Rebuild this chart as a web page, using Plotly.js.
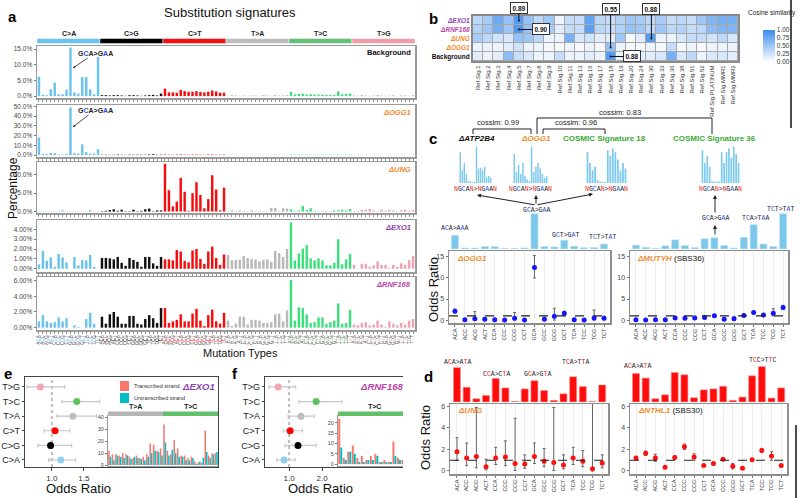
<!DOCTYPE html>
<html>
<head>
<meta charset="utf-8">
<script src="https://cdn.plot.ly/plotly-3.0.1.min.js"></script>
<style>html,body{margin:0;padding:0;background:#fff}#plot{width:800px;height:498px}</style>
</head>
<body>
<div id="plot"></div>
<script>
var W = 800, H = 498;
var SANS = 'Liberation Sans, Arial, sans-serif';
var MONO = 'Liberation Mono, DejaVu Sans Mono, monospace';

// ---------- panel a: 96-channel spectra (%) ----------
var mutTypes = ['C>A', 'C>G', 'C>T', 'T>A', 'T>C', 'T>G'];
var flanks = ['A', 'C', 'G', 'T'];
var typeColors = ['#6ac3ec', '#111111', '#f50d0d', '#b8b8b8', '#3ee07e', '#efa3b0'];
var stripColors = ['#6ac3ec', '#000000', '#f20f0f', '#bdbdbd', '#66bf78', '#ee9da9'];

var background = [
  6.2, 0.5, 0.3, 2.2, 4.3, 0.6, 0.6, 2.1, 15.5, 1.2, 0.8, 6.1, 6.1, 2.2, 0.6, 12.5,
  0.3, 0.3, 0.2, 0.3, 0.3, 0.2, 0.1, 0.3, 0.3, 0.2, 0.1, 0.2, 0.3, 0.4, 0.2, 0.8,
  2.4, 1.2, 1.2, 1.1, 2.0, 1.6, 1.4, 1.4, 1.6, 1.3, 1.2, 1.4, 1.8, 1.5, 1.1, 1.1,
  0.1, 0.3, 0.2, 0.1, 0.2, 0.1, 0.2, 0.2, 0.1, 0.3, 0.2, 0.1, 0.3, 0.2, 0.2, 0.3,
  1.3, 0.5, 0.7, 0.8, 0.5, 0.6, 0.5, 0.5, 0.5, 0.4, 0.4, 0.4, 1.5, 0.6, 0.7, 0.8,
  0.2, 0.1, 0.3, 0.2, 0.1, 0.2, 0.3, 0.2, 0.1, 0.2, 0.3, 0.1, 0.2, 0.2, 0.1, 0.3
];
var ogg1 = [
  18, 1, 1, 2, 2, 0.5, 0.5, 1, 49, 2, 1.5, 11, 3, 1.5, 1.5, 6,
  0.3, 0.3, 0.2, 0.3, 0.5, 0.3, 0.2, 0.4, 0.3, 0.4, 0.3, 0.3, 0.6, 0.8, 0.3, 0.4,
  0.6, 0.4, 0.3, 0.5, 0.6, 0.4, 0.3, 0.5, 0.5, 0.4, 0.2, 0.5, 0.6, 0.4, 0.3, 0.5,
  0.2, 0.3, 0.2, 0.2, 0.3, 0.2, 0.2, 0.3, 0.3, 0.2, 0.2, 0.3, 0.4, 0.3, 0.2, 0.3,
  0.5, 0.3, 0.4, 0.4, 0.3, 0.3, 0.2, 0.3, 0.4, 0.3, 0.3, 0.3, 0.5, 0.3, 0.3, 0.4,
  0.2, 0.2, 0.3, 0.3, 0.2, 0.2, 0.3, 0.2, 0.2, 0.3, 0.2, 0.2, 0.3, 0.2, 0.2, 0.3
];
var ung = [
  0.05, 0.05, 0.05, 0.05, 0.05, 0.05, 0.3, 0.05, 0.05, 0.05, 0.05, 0.05, 0.05, 0.4, 0.05, 0.05,
  0.1, 0.2, 0.4, 0.6, 0.2, 0.5, 0.1, 0.1, 0.5, 0.1, 0.2, 0.6, 0.8, 0.1, 0.3, 0.3,
  13, 5.8, 1.4, 2.7, 9.2, 5.4, 0.2, 5.0, 8.0, 4.5, 0.9, 3.4, 9.9, 6.0, 0.3, 6.5,
  0.1, 0.3, 0.1, 0.3, 0.1, 0.1, 0.3, 0.1, 0.2, 0.1, 0.1, 1.0, 1.0, 0.1, 0.9, 0.8,
  0.6, 0.1, 0.3, 1.5, 0.4, 0.9, 0.1, 0.1, 0.1, 0.1, 0.1, 0.3, 0.3, 0.5, 0.3, 0.7,
  0.1, 0.1, 0.4, 0.5, 0.7, 0.3, 0.1, 0.5, 0.2, 0.4, 0.3, 0.1, 0.3, 0.5, 0.2, 0.4
];
var exo1 = [
  0.45, 1.8, 0.8, 1.15, 0.2, 1.5, 1.15, 0.65, 0.0, 1.2, 0.35, 0.9, 0.85, 1.4, 0.2, 0.0,
  1.1, 1.1, 1.05, 0.95, 1.2, 0.6, 0.3, 1.1, 0.9, 0.7, 0.2, 1.2, 1.2, 0.55, 0.3, 1.2,
  0.95, 0.95, 0.85, 1.9, 1.75, 0.8, 0.65, 1.85, 2.0, 1.0, 0.5, 1.75, 2.25, 1.1, 0.4, 1.45,
  1.4, 0.85, 0.9, 0.9, 1.3, 1.1, 1.0, 0.95, 0.75, 0.9, 0.95, 0.7, 1.8, 1.6, 1.2, 2.0,
  4.7, 0.85, 1.55, 2.05, 2.4, 1.05, 0.85, 1.05, 0.85, 0.35, 0.35, 0.6, 3.0, 0.45, 0.95, 1.5,
  0.4, 0.0, 0.5, 0.5, 0.2, 0.35, 0.75, 0.4, 0.4, 0.1, 0.4, 0.2, 0.55, 0.4, 0.9, 1.3
];
var rnf168 = [
  0.8, 1.6, 0.8, 0.6, 0.7, 1.3, 0.8, 1.2, 0.0, 0.3, 0.1, 0.0, 1.1, 1.9, 0.5, 0.0,
  1.4, 0.5, 1.7, 2.0, 1.4, 0.5, 0.5, 1.5, 1.5, 0.5, 0.4, 1.1, 1.6, 1.2, 0.6, 2.5,
  2.5, 0.6, 0.8, 1.0, 1.7, 0.8, 0.8, 1.8, 2.4, 0.9, 0.2, 1.6, 2.3, 0.8, 0.5, 1.9,
  0.9, 0.2, 0.5, 1.4, 1.4, 0.4, 1.0, 1.0, 0.9, 0.6, 0.6, 0.7, 1.7, 1.8, 0.8, 2.2,
  6.1, 0.9, 2.6, 2.5, 1.7, 0.6, 0.7, 1.3, 1.3, 0.5, 0.7, 0.9, 3.1, 0.5, 0.6, 2.3,
  0.4, 0.3, 0.6, 0.7, 0.3, 0.4, 0.9, 0.4, 0.1, 0.8, 0.5, 0.3, 0.6, 0.4, 0.9, 1.1
];

// ---------- panel b: cosine similarity ----------
var refSigs = ['Ref.Sig.1', 'Ref.Sig.2', 'Ref.Sig.3', 'Ref.Sig.4', 'Ref.Sig.5', 'Ref.Sig.7', 'Ref.Sig.8',
  'Ref.Sig.9', 'Ref.Sig.10', 'Ref.Sig.11', 'Ref.Sig.13', 'Ref.Sig.16', 'Ref.Sig.17', 'Ref.Sig.18',
  'Ref.Sig.19', 'Ref.Sig.20', 'Ref.Sig.24', 'Ref.Sig.30', 'Ref.Sig.33', 'Ref.Sig.36', 'Ref.Sig.38',
  'Ref.Sig.51', 'Ref.Sig.52', 'Ref.Sig.PLATINUM', 'Ref.Sig.MMR1', 'Ref.Sig.MMR2'];
var simBackground = [0.15, 0.1, 0.15, 0.6, 0.3, 0.2, 0.1, 0.1, 0.3, 0.1, 0.1, 0.15, 0.1, 0.88, 0.1, 0.1, 0.15, 0.15, 0.2, 0.7, 0.2, 0.35, 0.1, 0.2, 0.2, 0.15];
var simOGG1 = [0.1, 0.1, 0.1, 0.15, 0.25, 0.1, 0.1, 0.05, 0.05, 0.1, 0.05, 0.1, 0.05, 0.55, 0.1, 0.05, 0.05, 0.1, 0.05, 0.3, 0.05, 0.1, 0.05, 0.1, 0.1, 0.1];
var simUNG = [0.45, 0.35, 0.25, 0.2, 0.55, 0.5, 0.35, 0.1, 0.1, 0.7, 0.2, 0.25, 0.15, 0.15, 0.5, 0.05, 0.15, 0.88, 0.1, 0.1, 0.2, 0.3, 0.3, 0.25, 0.35, 0.2];
var simRNF168 = [0.4, 0.5, 0.7, 0.5, 0.90, 0.55, 0.55, 0.45, 0.15, 0.3, 0.3, 0.85, 0.35, 0.3, 0.4, 0.55, 0.5, 0.35, 0.5, 0.35, 0.4, 0.3, 0.35, 0.6, 0.65, 0.65];
var simEXO1 = [0.35, 0.45, 0.75, 0.55, 0.89, 0.55, 0.35, 0.5, 0.1, 0.3, 0.3, 0.8, 0.35, 0.3, 0.4, 0.5, 0.45, 0.35, 0.45, 0.3, 0.35, 0.3, 0.5, 0.65, 0.7, 0.7];

// ---------- panel c/d: C>A and C>T contexts ----------
var ctx16 = ['ACA', 'ACC', 'ACG', 'ACT', 'CCA', 'CCC', 'CCG', 'CCT', 'GCA', 'GCC', 'GCG', 'GCT', 'TCA', 'TCC', 'TCG', 'TCT'];
var miniATP2B4 = [0.85, 0.35, 0.55, 0.25, 0.06, 0.05, 0.03, 0.03, 1.0, 0.4, 0.42, 0.35, 0.45, 0.15, 0.2, 0.15];
var miniOGG1 = [0.8, 0.3, 0.5, 0.25, 0.55, 0.2, 0.1, 0.05, 1.0, 0.3, 0.45, 0.55, 0.4, 0.25, 0.15, 0.2];
var miniSig18 = [0.85, 0.55, 0.35, 0.45, 0.08, 0.04, 0.03, 0.03, 0.9, 0.75, 0.95, 0.85, 0.65, 0.35, 0.55, 0.4];
var miniSig36 = [0.9, 0.55, 0.75, 0.45, 0.05, 0.04, 0.04, 0.04, 0.85, 0.55, 0.85, 0.95, 0.7, 1.0, 0.8, 0.55];
var spectrumOGG1 = [0.39, 0.03, 0.03, 0.07, 0.07, 0.02, 0.02, 0.03, 1.0, 0.07, 0.06, 0.25, 0.08, 0.04, 0.04, 0.14];
var spectrumMUTYH = [0.11, 0.05, 0.02, 0.09, 0.26, 0.1, 0.04, 0.29, 0.32, 0.1, 0.03, 0.33, 0.69, 0.14, 0.07, 1.0];
var orOGG1 = [2.1, 0.05, 0.3, 0.2, 0.1, 0.0, 0.4, 0.0, 12.5, 0.2, 0.9, 1.6, 0.1, 0.0, 0.5, 0.4];
var loOGG1 = [1.7, 0, 0, 0, 0, 0, 0, 0, 10.0, 0, 0, 1.1, 0, 0, 0, 0.1];
var hiOGG1 = [2.6, 0.3, 2.0, 0.6, 0.4, 0.2, 1.8, 0.2, 15.3, 0.7, 2.8, 2.1, 0.4, 0.2, 2.4, 0.9];
var orMUTYH = [0.1, 0.0, 0.1, 0.1, 0.5, 0.4, 0.5, 0.6, 1.0, 0.2, 0.3, 1.1, 1.8, 1.2, 1.6, 3.0];
var loMUTYH = [0, 0, 0, 0, 0.3, 0.2, 0.3, 0.4, 0.8, 0, 0.1, 0.9, 1.5, 1.0, 1.0, 2.5];
var hiMUTYH = [0.3, 0.2, 0.4, 0.3, 0.7, 0.6, 0.9, 0.8, 1.3, 0.5, 0.8, 1.4, 2.1, 1.5, 2.7, 3.5];

var spectrumUNG = [105, 45, 10, 20, 72, 43, 2, 40, 65, 35, 5, 25, 77, 47, 2, 52];
var spectrumNTHL1 = [87, 73, 10, 22, 90, 83, 13, 37, 40, 48, 5, 15, 80, 108, 12, 43];
var orUNG = [1.8, 1.2, 1.35, 0.4, 1.2, 1.3, 0.7, 0.65, 1.35, 0.9, 0.8, 0.55, 1.2, 0.9, 0.2, 0.75];
var loUNG = [1.0, 0.5, 0.3, 0.1, 0.6, 0.5, 0.05, 0.25, 0.7, 0.4, 0.05, 0.2, 0.6, 0.4, 0.0, 0.3];
var hiUNG = [3.1, 2.6, 5.9, 1.1, 2.2, 2.8, 4.9, 1.5, 2.6, 2.1, 5.9, 1.5, 2.2, 1.9, 7.0, 1.5];
var orNTHL1 = [1.2, 1.65, 1.2, 0.35, 1.25, 2.25, 1.3, 0.5, 0.7, 1.1, 0.45, 0.25, 1.05, 1.9, 1.4, 0.5];
var loNTHL1 = [1.05, 1.45, 0.9, 0.3, 1.1, 2.0, 1.0, 0.45, 0.6, 1.0, 0.2, 0.2, 0.95, 1.75, 1.0, 0.45];
var hiNTHL1 = [1.35, 1.85, 1.55, 0.4, 1.4, 2.5, 1.6, 0.55, 0.8, 1.2, 0.7, 0.3, 1.15, 2.1, 1.8, 0.55];

// ---------- panels e/f: strand bias ----------
var forestColors = ['#8fd0f0', '#000000', '#ff0000', '#bdbdbd', '#5cc15c', '#f4a6b3'];
var orEXO1 = [1.14, 0.98, 1.05, 1.33, 1.39, 0.82];
var loEXO1 = [0.95, 0.78, 0.88, 1.08, 1.16, 0.61];
var hiEXO1 = [1.37, 1.31, 1.28, 1.70, 1.75, 1.20];
var orRNF168 = [0.85, 1.27, 1.03, 1.36, 1.82, 0.67];
var loRNF168 = [0.63, 0.88, 0.82, 0.97, 1.30, 0.39];
var hiRNF168 = [1.18, 1.82, 1.40, 1.76, 2.60, 1.20];
var exo1Transcribed = [12, 9, 9, 8, 10, 9, 7, 6, 8, 6, 7, 9, 18, 17, 12, 14,
  34, 12, 9, 21, 14, 8, 8, 6, 7, 3, 2, 2, 29, 8, 10, 10];
var exo1Untranscribed = [7, 4, 8, 7, 6, 8, 5, 7, 6, 5, 4, 7, 10, 12, 11, 8,
  19, 8, 13, 10, 7, 7, 4, 4, 6, 1, 3, 6, 11, 6, 9, 11];
var rnf168Transcribed = [22, 3, 6, 9, 3, 4, 2, 4, 5, 1, 2, 1, 11, 3, 2, 3];
var rnf168Untranscribed = [8, 2, 6, 5, 1, 1, 2, 2, 4, 1, 1, 1, 4, 2, 1, 1];

// ---------- helpers ----------
var layout = {
  width: W, height: H, margin: {l: 0, r: 0, t: 0, b: 0},
  paper_bgcolor: '#fff', plot_bgcolor: '#fff',
  font: {family: SANS, size: 8, color: '#222'},
  showlegend: false, hovermode: false, barmode: 'overlay',
  annotations: [], shapes: []
};
var data = [];

function px(x) { return x / W; }
function py(y) { return 1 - y / H; }
function range(n) { var a = []; for (var i = 0; i < n; i++) a.push(i); return a; }
function axes(n, x0, x1, top, bot, xo, yo) {
  var s = n === 1 ? '' : String(n);
  layout['xaxis' + s] = Object.assign({domain: [px(x0), px(x1)], anchor: 'y' + s, showgrid: false, zeroline: false}, xo);
  layout['yaxis' + s] = Object.assign({domain: [py(bot), py(top)], anchor: 'x' + s, showgrid: false, zeroline: false}, yo);
  return {xaxis: 'x' + s, yaxis: 'y' + s};
}
function note(text, x, y, o) {
  layout.annotations.push(Object.assign({text: text, xref: 'paper', yref: 'paper', x: px(x), y: py(y),
    xanchor: 'center', yanchor: 'middle', showarrow: false,
    font: {size: 8, color: '#222', family: SANS}}, o || {}));
}
function seg(x0, y0, x1, y1, o) {
  layout.shapes.push(Object.assign({type: 'line', xref: 'paper', yref: 'paper', x0: px(x0), y0: py(y0),
    x1: px(x1), y1: py(y1), line: {color: '#222', width: 1}}, o || {}));
}
function col(s, c) { return '<span style="color:' + c + '">' + s + '</span>'; }
function mutLabel(ctx, alt, c) {
  return ctx[0] + col(ctx[1], c) + ctx[2] + '>' + ctx[0] + col(alt, c) + ctx[2];
}
function geneLabel(g, c) { return '<b><i>' + col(g, c) + '</i></b>'; }
var ORANGE = '#f28a2a', PURPLE = '#8d3fb0', MAGENTA = '#b844a6', GREEN = '#3aaa35', BLUE = '#2a4fe0', RED = '#ee1c1c';

// ---------- panel a ----------
var idx96 = range(96), idx16 = range(16), idx26 = range(26);
var ctxLabels = [], barColors = [];
mutTypes.forEach(function (t, k) {
  flanks.forEach(function (f5) {
    flanks.forEach(function (f3) {
      ctxLabels.push(f5 + col(t[0], stripColors[k]) + f3);
      barColors.push(typeColors[k]);
    });
  });
});

var aPanels = [
  {vals: background, top: 46, bot: 98, range: [-0.6, 16], ticks: [0, 5, 10, 15], dec: 1, label: '<b>Background</b>'},
  {vals: ogg1, top: 105, bot: 157, range: [-2, 51.5], ticks: [0, 10, 20, 30, 40, 50], dec: 1, label: geneLabel('ΔOGG1', ORANGE)},
  {vals: ung, top: 162, bot: 213, range: [-0.4, 13.5], ticks: [0, 5, 10], dec: 1, label: geneLabel('ΔUNG', ORANGE)},
  {vals: exo1, top: 220, bot: 272, range: [-0.33, 4.95], ticks: [0, 1, 2, 3, 4], dec: 2, label: geneLabel('ΔEXO1', PURPLE)},
  {vals: rnf168, top: 277, bot: 330, range: [-0.3, 6.47], ticks: [0, 2, 4, 6], dec: 2, label: geneLabel('ΔRNF168', MAGENTA)}
];
aPanels.forEach(function (p, i) {
  var ax = axes(i + 1, 37, 415, p.top, p.bot, {
    range: [-0.5, 95.5], showline: true, mirror: true, linecolor: '#9a9a9a', linewidth: 1.5,
    ticks: 'outside', ticklen: 2, tickwidth: 0.8, tickcolor: '#777', tickmode: 'array',
    tickvals: idx96, ticktext: ctxLabels, showticklabels: i === 4, tickangle: -90,
    tickfont: {size: 4.5, color: '#555'}
  }, {
    range: p.range, tickmode: 'array', tickvals: p.ticks,
    ticktext: p.ticks.map(function (v) { return v.toFixed(p.dec) + '%'; }),
    showline: true, mirror: true, linecolor: '#9a9a9a', linewidth: 1.5,
    ticks: 'outside', ticklen: 2, tickcolor: '#777', tickfont: {size: 6.5, color: '#444'}
  });
  data.push({type: 'bar', x: idx96, y: p.vals, width: 0.62, marker: {color: barColors},
    xaxis: ax.xaxis, yaxis: ax.yaxis, hoverinfo: 'skip'});
  note(p.label, 413, p.top + 7, {xanchor: 'right', font: {size: 7.5, color: '#111', family: SANS}});
});
mutTypes.forEach(function (t, k) {
  layout.shapes.push({type: 'rect', xref: 'x', yref: 'paper', x0: 16 * k - 0.5, x1: 16 * k + 15.5,
    y0: py(43.5), y1: py(38.5), fillcolor: stripColors[k], line: {color: '#fff', width: 0.5}});
  layout.annotations.push({text: '<b>' + t + '</b>', xref: 'x', yref: 'paper', x: 16 * k + 7.5, y: py(33),
    xanchor: 'center', yanchor: 'middle', showarrow: false, font: {size: 7, color: '#222', family: SANS}});
});
note('<b>a</b>', 12, 17, {font: {size: 15, color: '#000', family: SANS}});
note('Substitution signatures', 230, 13, {font: {size: 13, color: '#111', family: SANS}});
note('Percentage', 13, 188, {textangle: -90, font: {size: 12, color: '#111', family: SANS}});
note('Mutation Types', 240, 353, {font: {size: 11, color: '#111', family: SANS}});
[[68, 53], [127, 110]].forEach(function (h) {
  layout.annotations.push({text: '<b>' + mutLabel('GCA', 'A', BLUE) + '</b>', xref: 'paper', yref: 'paper',
    x: px(73), y: py(h[0]), ax: 22, ay: h[1] - h[0], showarrow: true, arrowhead: 2, arrowsize: 0.6,
    arrowwidth: 0.8, arrowcolor: '#222', font: {size: 7, color: '#222', family: SANS}});
});

// ---------- panel b ----------
var hb = axes(6, 473, 738, 16, 61, {
  range: [-0.5, 25.5], tickmode: 'array', tickvals: idx26, ticktext: refSigs, tickangle: -90,
  tickfont: {size: 6, color: '#333'}, showline: true, mirror: true, linecolor: '#8a8a8a', linewidth: 2, ticks: ''
}, {
  range: [-0.5, 4.5], tickmode: 'array', tickvals: [0, 1, 2, 3, 4],
  ticktext: ['<b>Background</b>', geneLabel('ΔOGG1', ORANGE), geneLabel('ΔUNG', ORANGE),
    geneLabel('ΔRNF168', MAGENTA), geneLabel('ΔEXO1', PURPLE)],
  tickfont: {size: 6.5, color: '#111'}, showline: true, mirror: true, linecolor: '#8a8a8a', linewidth: 2, ticks: ''
});
layout.shapes.push({type: 'rect', xref: 'x6 domain', yref: 'y6 domain', x0: 0, x1: 1, y0: 0, y1: 1,
  fillcolor: '#a8a8a8', line: {width: 0}, layer: 'below'});
data.push({type: 'heatmap', x: idx26, y: [0, 1, 2, 3, 4],
  z: [simBackground, simOGG1, simUNG, simRNF168, simEXO1], zmin: 0, zmax: 1,
  colorscale: [[0, '#ffffff'], [1, '#3d8ef0']], xgap: 1, ygap: 1, xaxis: hb.xaxis, yaxis: hb.yaxis,
  hoverinfo: 'skip',
  colorbar: {x: px(753), xanchor: 'left', y: py(20), yanchor: 'top', len: 52 / H, lenmode: 'fraction',
    thickness: 12, outlinewidth: 0, ticks: '', tickmode: 'array', tickvals: [0, 0.25, 0.5, 0.75, 1],
    ticktext: ['0.00', '0.25', '0.50', '0.75', '1.00'], tickfont: {size: 6.5, color: '#333'}}});
note('Cosine similarity', 772, 13, {font: {size: 6.5, color: '#222', family: SANS}});
note('<b>b</b>', 433, 18, {font: {size: 15, color: '#000', family: SANS}});
[[4, 4, '0.89', 0, -12], [4, 3, '0.90', 22, 0], [13, 1, '0.55', 0, -38.5], [17, 2, '0.88', 0, -29.5], [13, 0, '0.88', 21, 0]]
  .forEach(function (a) {
    layout.annotations.push({xref: 'x6', yref: 'y6', x: a[0], y: a[1], text: '<b>' + a[2] + '</b>',
      showarrow: true, arrowhead: 6, arrowsize: 0.5, arrowwidth: 1, arrowcolor: '#111', ax: a[3], ay: a[4],
      bordercolor: '#333', borderwidth: 1, borderpad: 1.5, bgcolor: '#fff', font: {size: 6.5, color: '#111', family: SANS}});
  });
seg(791, 0, 791, 128, {line: {color: '#111', width: 1.5}});
seg(796, 425, 796, 498, {line: {color: '#111', width: 1.5}});

// ---------- panel c ----------
note('<b>c</b>', 433, 138, {font: {size: 15, color: '#000', family: SANS}});
seg(473, 129, 531, 129); seg(473, 129, 473, 134); seg(531, 129, 531, 134);
seg(543, 129, 605, 129); seg(543, 129, 543, 134); seg(605, 129, 605, 134);
seg(537, 118, 712, 118); seg(537, 118, 537, 134); seg(712, 118, 712, 134);
note('cossim: 0.99', 498, 123, {font: {size: 7.5, color: '#222', family: SANS}});
note('cossim: 0.96', 576, 123, {font: {size: 7.5, color: '#222', family: SANS}});
note('cossim: 0.83', 620, 112, {font: {size: 7.5, color: '#222', family: SANS}});
note('<b><i>ΔATP2B4</i></b>', 476, 139, {font: {size: 8, color: '#111', family: SANS}});
note(geneLabel('ΔOGG1', ORANGE), 536, 139, {font: {size: 8, color: '#111', family: SANS}});
note('<b>' + col('COSMIC Signature 18', GREEN) + '</b>', 604, 139, {font: {size: 8, color: '#111', family: SANS}});
note('<b>' + col('COSMIC Signature 36', GREEN) + '</b>', 714, 139, {font: {size: 8, color: '#111', family: SANS}});

var ngLabel = col('N', RED) + 'G' + col('C', BLUE) + 'A' + col('N', RED) + '>' + col('N', RED) + 'G' + col('A', BLUE) + 'A' + col('N', RED);
[[miniATP2B4, 459, 492], [miniOGG1, 513, 548], [miniSig18, 586, 627], [miniSig36, 701, 740]].forEach(function (m, i) {
  var ax = axes(7 + i, m[1], m[2], 146, 183, {visible: false, range: [-0.6, 15.6]}, {visible: false, range: [0, 1.02]});
  data.push({type: 'bar', x: idx16, y: m[0], width: 0.7, marker: {color: '#7dc9ec'}, xaxis: ax.xaxis, yaxis: ax.yaxis, hoverinfo: 'skip'});
  note(ngLabel, (m[1] + m[2]) / 2, 189, {font: {size: 6.5, color: '#222', family: MONO}});
});
var gcaLabel = mutLabel('GCA', 'A', BLUE);
note(gcaLabel, 536, 210, {font: {size: 6.5, color: '#222', family: MONO}});
[[477, 195], [536, 195], [593, 194]].forEach(function (h) {
  layout.annotations.push({text: '', xref: 'paper', yref: 'paper', x: px(h[0]), y: py(h[1]),
    ax: 536 - h[0], ay: 205 - h[1], showarrow: true, arrowhead: 2, arrowsize: 0.8, arrowwidth: 1, arrowcolor: '#222'});
});
note(gcaLabel, 715, 219, {font: {size: 6.5, color: '#222', family: MONO}});
layout.annotations.push({text: '', xref: 'paper', yref: 'paper', x: px(715), y: py(195), ax: 0, ay: 19,
  showarrow: true, arrowhead: 2, arrowsize: 0.8, arrowwidth: 1, arrowcolor: '#222'});
layout.annotations.push({text: '', xref: 'paper', yref: 'paper', x: px(715), y: py(225), ax: 0, ay: 11,
  showarrow: true, arrowhead: 2, arrowsize: 0.8, arrowwidth: 1, arrowcolor: '#222'});

var cTop = [[spectrumOGG1, 449, 610, [-0.6, 15.6]], [spectrumMUTYH, 630, 788, [-0.6, 15.5]]];
cTop.forEach(function (t, i) {
  var ax = axes(11 + i, t[1], t[2], 213, 249, {visible: false, range: t[3]}, {visible: false, range: [0, 1.02]});
  data.push({type: 'bar', x: idx16, y: t[0], width: 0.72, marker: {color: '#7cc8ea', line: {color: '#bfe4f6', width: 0.6}},
    xaxis: ax.xaxis, yaxis: ax.yaxis, hoverinfo: 'skip'});
});
note(mutLabel('ACA', 'A', BLUE), 454, 229, {font: {size: 6.5, color: '#222', family: MONO}});
note(mutLabel('GCT', 'A', BLUE), 565, 235, {font: {size: 6.5, color: '#222', family: MONO}});
note(mutLabel('TCT', 'A', BLUE), 602, 238, {font: {size: 6.5, color: '#222', family: MONO}});
note(mutLabel('TCA', 'A', BLUE), 755, 219, {font: {size: 6.5, color: '#222', family: MONO}});
note(mutLabel('TCT', 'A', BLUE), 780, 209, {font: {size: 6.5, color: '#222', family: MONO}});

function oddsAxes(n, x0, x1, top, bot, xr, yr, yticks) {
  return axes(n, x0, x1, top, bot, {
    range: xr, tickmode: 'array', tickvals: idx16, ticktext: ctx16, tickangle: -90,
    tickfont: {size: 5.5, color: '#444'}, showgrid: true, gridcolor: '#ececec', gridwidth: 1,
    showline: true, mirror: true, linecolor: '#8e8e8e', linewidth: 1.5, ticks: 'outside', ticklen: 2, tickcolor: '#777'
  }, {
    range: yr, tickmode: 'array', tickvals: yticks, tickfont: {size: 7, color: '#444'},
    showline: true, mirror: true, linecolor: '#8e8e8e', linewidth: 1.5, ticks: 'outside', ticklen: 2, tickcolor: '#777'
  });
}
function oddsTrace(ax, vals, lo, hi, color) {
  return {type: 'scatter', mode: 'markers', x: idx16, y: vals, xaxis: ax.xaxis, yaxis: ax.yaxis,
    marker: {color: color, size: 5}, hoverinfo: 'skip',
    error_y: {type: 'data', symmetric: false, color: '#666', thickness: 1, width: 1.5,
      array: hi.map(function (h, i) { return h - vals[i]; }),
      arrayminus: vals.map(function (v, i) { return v - lo[i]; })}};
}
function unityLine(n) {
  layout.shapes.push({type: 'line', xref: 'x' + n + ' domain', yref: 'y' + n, x0: 0, x1: 1, y0: 1, y1: 1,
    line: {color: '#222', width: 1.2, dash: 'dash'}});
}
var c1 = oddsAxes(13, 449, 610, 251, 323, [-0.6, 15.6], [-0.7, 16.4], [0, 5, 10, 15]);
var c2 = oddsAxes(14, 630, 788, 251, 323, [-0.6, 15.5], [-0.7, 16.4], [0, 5, 10, 15]);
data.push(oddsTrace(c1, orOGG1, loOGG1, hiOGG1, '#1414ff'));
data.push(oddsTrace(c2, orMUTYH, loMUTYH, hiMUTYH, '#1414ff'));
unityLine(13); unityLine(14);
note(geneLabel('ΔOGG1', ORANGE), 455, 258, {xanchor: 'left', font: {size: 8, color: '#111', family: SANS}});
note(geneLabel('ΔMUTYH', ORANGE) + ' (SBS36)', 635, 258, {xanchor: 'left', font: {size: 8, color: '#111', family: SANS}});
note('Odds Ratio', 433, 290, {textangle: -90, font: {size: 13, color: '#111', family: SANS}});

// ---------- panel d ----------
note('<b>d</b>', 428, 376, {font: {size: 15, color: '#000', family: SANS}});
[[spectrumUNG, 450, 608, [-0.72, 15.6]], [spectrumNTHL1, 630, 787, [-0.62, 15.6]]].forEach(function (t, i) {
  var ax = axes(15 + i, t[1], t[2], 366, 402, {visible: false, range: t[3]}, {visible: false, range: [0, 110]});
  data.push({type: 'bar', x: idx16, y: t[0], width: 0.72, marker: {color: '#ff0c0c', line: {color: '#ff8a8a', width: 0.6}},
    xaxis: ax.xaxis, yaxis: ax.yaxis, hoverinfo: 'skip'});
});
note(mutLabel('ACA', 'T', RED), 457, 362, {font: {size: 6.5, color: '#222', family: MONO}});
note(mutLabel('CCA', 'T', RED), 496, 374, {font: {size: 6.5, color: '#222', family: MONO}});
note(mutLabel('GCA', 'T', RED), 537, 374, {font: {size: 6.5, color: '#222', family: MONO}});
note(mutLabel('TCA', 'T', RED), 575, 362, {font: {size: 6.5, color: '#222', family: MONO}});
note(mutLabel('ACA', 'T', RED), 637, 366, {font: {size: 6.5, color: '#222', family: MONO}});
note(mutLabel('TCC', 'T', RED), 762, 360, {font: {size: 6.5, color: '#222', family: MONO}});
var d1 = oddsAxes(17, 450, 608, 404, 474, [-0.72, 15.6], [-0.28, 6.23], [0, 2, 4, 6]);
var d2 = oddsAxes(18, 630, 787, 404, 474, [-0.62, 15.6], [-0.28, 6.23], [0, 2, 4, 6]);
data.push(oddsTrace(d1, orUNG, loUNG, hiUNG, '#ff1010'));
data.push(oddsTrace(d2, orNTHL1, loNTHL1, hiNTHL1, '#ff1010'));
unityLine(17); unityLine(18);
note(geneLabel('ΔUNG', ORANGE), 456, 410, {xanchor: 'left', font: {size: 8, color: '#111', family: SANS}});
note(geneLabel('ΔNTHL1', ORANGE) + ' (SBS30)', 636, 410, {xanchor: 'left', font: {size: 8, color: '#111', family: SANS}});
note('Odds Ratio', 425, 438, {textangle: -90, font: {size: 13, color: '#111', family: SANS}});

// ---------- panels e / f ----------
function forest(n, x0, x1, xr, xt, vals, lo, hi, mirrorY) {
  var ax = axes(n, x0, x1, 377, 467, {
    range: xr, tickmode: 'array', tickvals: xt, ticktext: xt.map(function (v) { return v.toFixed(1); }),
    showline: true, mirror: true, linecolor: '#444', linewidth: 1.2, ticks: 'outside', ticklen: 3,
    tickcolor: '#444', tickfont: {size: 8, color: '#333'}
  }, {
    range: [-0.48, 5.68], tickmode: 'array', tickvals: range(6), ticktext: mutTypes,
    showline: true, mirror: mirrorY, linecolor: '#444', linewidth: 1.2, ticks: 'outside', ticklen: 2,
    tickcolor: '#444', tickfont: {size: 9, color: '#222'}
  });
  layout.shapes.push({type: 'line', xref: 'x' + n, yref: 'y' + n + ' domain', x0: 1, x1: 1, y0: 0, y1: 1,
    line: {color: '#bdbdbd', width: 2, dash: 'dot'}, layer: 'below'});
  data.push({type: 'scatter', mode: 'markers', x: vals, y: range(6), xaxis: ax.xaxis, yaxis: ax.yaxis,
    marker: {color: forestColors, size: 7}, hoverinfo: 'skip',
    error_x: {type: 'data', symmetric: false, color: '#c8c8c8', thickness: 1.2, width: 2,
      array: hi.map(function (h, i) { return h - vals[i]; }),
      arrayminus: vals.map(function (v, i) { return v - lo[i]; })}});
}
function inset(n, x0, x1, xr, yr, yticks, trans, untrans, panels) {
  var s = String(n);
  var ax = axes(n, x0, x1, 416, 466, {
    range: xr, showticklabels: false, ticks: '', showline: true, mirror: true, linecolor: '#9a9a9a', linewidth: 1
  }, {
    range: yr, tickmode: 'array', tickvals: yticks, tickfont: {size: 5.5, color: '#444'},
    showline: true, linecolor: '#9a9a9a', linewidth: 1, ticks: 'outside', ticklen: 2, tickcolor: '#777'
  });
  panels.forEach(function (p) {
    layout.shapes.push({type: 'rect', xref: 'x' + s, yref: 'y' + s + ' domain', x0: p[0], x1: p[1], y0: 0, y1: 1,
      fillcolor: p[2], line: {width: 0}, layer: 'below'});
    layout.shapes.push({type: 'rect', xref: 'x' + s, yref: 'paper', x0: p[0], x1: p[1], y0: py(416), y1: py(411.5),
      fillcolor: p[3], line: {width: 0}});
    layout.annotations.push({text: '<b>' + p[4] + '</b>', xref: 'x' + s, yref: 'paper', x: (p[0] + p[1]) / 2, y: py(406),
      xanchor: 'center', yanchor: 'middle', showarrow: false, font: {size: 7, color: '#222', family: SANS}});
  });
  var xs = range(trans.length);
  data.push({type: 'bar', x: xs, y: trans, offset: -0.44, width: 0.44, marker: {color: '#f8766d'},
    xaxis: ax.xaxis, yaxis: ax.yaxis, hoverinfo: 'skip'});
  data.push({type: 'bar', x: xs, y: untrans, offset: 0, width: 0.44, marker: {color: '#00bfc4'},
    xaxis: ax.xaxis, yaxis: ax.yaxis, hoverinfo: 'skip'});
}
forest(19, 25, 218, [0.58, 3.6], [1.0, 1.5], orEXO1, loEXO1, hiEXO1, true);
inset(20, 108, 218, [-0.5, 31.5], [-0.8, 41.2], [0, 10, 20, 30, 40], exo1Transcribed, exo1Untranscribed,
  [[-0.5, 15.5, '#ececec', '#b5b5b5', 'T>A'], [15.5, 31.5, '#c8eac8', '#62bf6a', 'T>C']]);
forest(21, 265, 403, [0.27, 4.45], [1.0, 2.0], orRNF168, loRNF168, hiRNF168, false);
inset(22, 338, 403, [-0.5, 13.9], [-0.9, 23.3], [0, 5, 10, 15, 20], rnf168Transcribed, rnf168Untranscribed,
  [[-0.5, 15.5, '#c8eac8', '#62bf6a', 'T>C']]);

note('<b>e</b>', 8, 373, {font: {size: 15, color: '#000', family: SANS}});
note('<b>f</b>', 235, 373, {font: {size: 15, color: '#000', family: SANS}});
note('Odds Ratio', 78, 488, {font: {size: 13, color: '#111', family: SANS}});
note('Odds Ratio', 320, 488, {font: {size: 13, color: '#111', family: SANS}});
note(geneLabel('ΔEXO1', PURPLE), 217, 386, {xanchor: 'right', font: {size: 9.5, color: '#111', family: SANS}});
note(geneLabel('ΔRNF168', MAGENTA), 405, 386, {xanchor: 'right', font: {size: 9.5, color: '#111', family: SANS}});
layout.shapes.push({type: 'rect', xref: 'paper', yref: 'paper', x0: px(120), x1: px(129), y0: py(391), y1: py(381),
  fillcolor: '#f8766d', line: {width: 0}});
layout.shapes.push({type: 'rect', xref: 'paper', yref: 'paper', x0: px(120), x1: px(129), y0: py(403), y1: py(393),
  fillcolor: '#00bfc4', line: {width: 0}});
note('Transcribed strand', 132, 386, {xanchor: 'left', font: {size: 5.5, color: '#333', family: SANS}});
note('Untranscribed strand', 132, 398, {xanchor: 'left', font: {size: 5.5, color: '#333', family: SANS}});

Plotly.newPlot('plot', data, layout, {displayModeBar: false, staticPlot: true});
</script>
</body>
</html>
